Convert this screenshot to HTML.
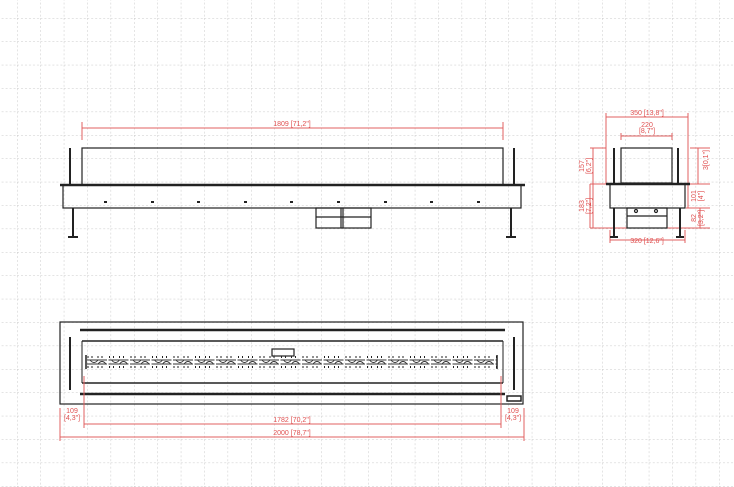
<!DOCTYPE html>
<html><head><style>
html,body{margin:0;padding:0;background:#fff;}
svg{display:block;}
text{font-family:"Liberation Sans",sans-serif;fill:#e05050;}
</style></head><body>
<svg width="734" height="487" viewBox="0 0 734 487" xmlns="http://www.w3.org/2000/svg">
<defs>
<pattern id="g" x="17" y="18" width="23.4" height="23.4" patternUnits="userSpaceOnUse">
<path d="M0 0V23.4M0 0H23.4" stroke="#c8c8c8" stroke-width="1" stroke-dasharray="2 2" fill="none"/>
</pattern>
<pattern id="burn" x="86" y="354" width="21.5" height="16" patternUnits="userSpaceOnUse">
<path d="M2 2v2M6 2v2M12 2v2M16 2v2M2 12v2M6 12v2M12 12v2M16 12v2" stroke="#222" stroke-width="1"/>
<path d="M1 6h20M1 10h20M4 6q4 5 8 0M12 10q4 -5 8 0" stroke="#333" stroke-width="0.9" fill="none"/>
</pattern>
</defs>
<rect width="734" height="487" fill="url(#g)"/>

<!-- FRONT VIEW -->
<g stroke="#e06060" stroke-width="1" fill="none">
<path d="M82 128H503M82 122V140M503 122V140"/>
</g>
<text x="292" y="126" font-size="7" text-anchor="middle">1809 [71,2"]</text>
<g stroke="#222" fill="none" stroke-width="1.2">
<rect x="82" y="148" width="421" height="37"/>
<path d="M70 148V185M514 148V185" stroke-width="2"/>
<path d="M60 185H525" stroke-width="2.5"/>
<rect x="63" y="185" width="458" height="23"/>
<path d="M73 208V236M511 208V236" stroke-width="2"/>
<path d="M68 237H78M506 237H516" stroke-width="2"/>
<rect x="316" y="208" width="55" height="20"/>
<path d="M316 217H371M341 208V228M343 208V228"/>
</g>
<g fill="#222">
<rect x="104" y="201" width="3" height="2"/><rect x="151" y="201" width="3" height="2"/><rect x="197" y="201" width="3" height="2"/><rect x="244" y="201" width="3" height="2"/><rect x="290" y="201" width="3" height="2"/><rect x="337" y="201" width="3" height="2"/><rect x="384" y="201" width="3" height="2"/><rect x="430" y="201" width="3" height="2"/><rect x="477" y="201" width="3" height="2"/>
</g>

<!-- SIDE VIEW -->
<g stroke="#e06060" stroke-width="1" fill="none">
<path d="M606 117H688M606 113V184M688 113V184"/>
<path d="M621 136H672M621 133V140M672 133V140"/>
<path d="M590 184H710"/>
<path d="M590 148H606M593 148V184M590 184V228M593 184V228M590 228H627"/>
<path d="M610 240H685M610 230V243M685 230V243"/>
<path d="M698 148V184M690 148H710"/>
<path d="M688 184V208M686 208H710"/>
<path d="M700 208V228M667 228H710"/>
</g>
<text x="647" y="115" font-size="7" text-anchor="middle">350 [13,8"]</text>
<text x="647" y="127" font-size="7" text-anchor="middle">220</text>
<text x="647" y="133" font-size="7" text-anchor="middle">[8,7"]</text>
<text x="647" y="243" font-size="7" text-anchor="middle">320 [12,6"]</text>
<text transform="translate(584,166) rotate(-90)" font-size="7" text-anchor="middle">157</text>
<text transform="translate(591,166) rotate(-90)" font-size="7" text-anchor="middle">[6,2"]</text>
<text transform="translate(584,206) rotate(-90)" font-size="7" text-anchor="middle">183</text>
<text transform="translate(591,206) rotate(-90)" font-size="7" text-anchor="middle">[7,2"]</text>
<text transform="translate(708,160) rotate(-90)" font-size="7" text-anchor="middle">3[0,1"]</text>
<text transform="translate(696,196) rotate(-90)" font-size="7" text-anchor="middle">101</text>
<text transform="translate(703,196) rotate(-90)" font-size="7" text-anchor="middle">[4"]</text>
<text transform="translate(696,218) rotate(-90)" font-size="7" text-anchor="middle">82</text>
<text transform="translate(703,218) rotate(-90)" font-size="7" text-anchor="middle">[3,2"]</text>
<g stroke="#222" fill="none" stroke-width="1.2">
<rect x="621" y="148" width="51" height="35"/>
<path d="M614 148V184M678 148V184" stroke-width="2"/>
<path d="M606 184H690" stroke-width="2.5"/>
<rect x="610" y="184" width="75" height="24"/>
<path d="M614 208V236M680 208V236" stroke-width="2"/>
<path d="M610 237H618M676 237H684" stroke-width="2"/>
<rect x="627" y="208" width="40" height="20"/>
<path d="M627 216H667"/>
<circle cx="636" cy="211" r="1.5"/><circle cx="656" cy="211" r="1.5"/>
</g>

<!-- TOP VIEW -->
<g stroke="#222" fill="none">
<rect x="60" y="322" width="463" height="82" stroke-width="1.2"/>
<path d="M80 330H505M80 394H505" stroke-width="2.5"/>
<path d="M82 341H503M82 383H503" stroke-width="1.5"/>
<path d="M82 341V383M503 341V383" stroke-width="1"/>
<path d="M70 337V390M514 337V390" stroke-width="2"/>
<path d="M86 355V369M497 355V369" stroke-width="1.5"/>
<rect x="272" y="349" width="22" height="7" stroke-width="1.2"/>
<rect x="507" y="396" width="14" height="5" stroke-width="1.5"/>
</g>
<rect x="86" y="354" width="411" height="16" fill="url(#burn)"/>
<g stroke="#e06060" stroke-width="1" fill="none">
<path d="M84 376V428M501 376V428M60 408V441M524 408V441"/>
<path d="M84 424H501M60 437H524"/>
</g>
<text x="292" y="422" font-size="7" text-anchor="middle">1782 [70,2"]</text>
<text x="292" y="435" font-size="7" text-anchor="middle">2000 [78,7"]</text>
<text x="72" y="413" font-size="7" text-anchor="middle">109</text>
<text x="72" y="420" font-size="7" text-anchor="middle">[4,3"]</text>
<text x="513" y="413" font-size="7" text-anchor="middle">109</text>
<text x="513" y="420" font-size="7" text-anchor="middle">[4,3"]</text>
</svg>
</body></html>
